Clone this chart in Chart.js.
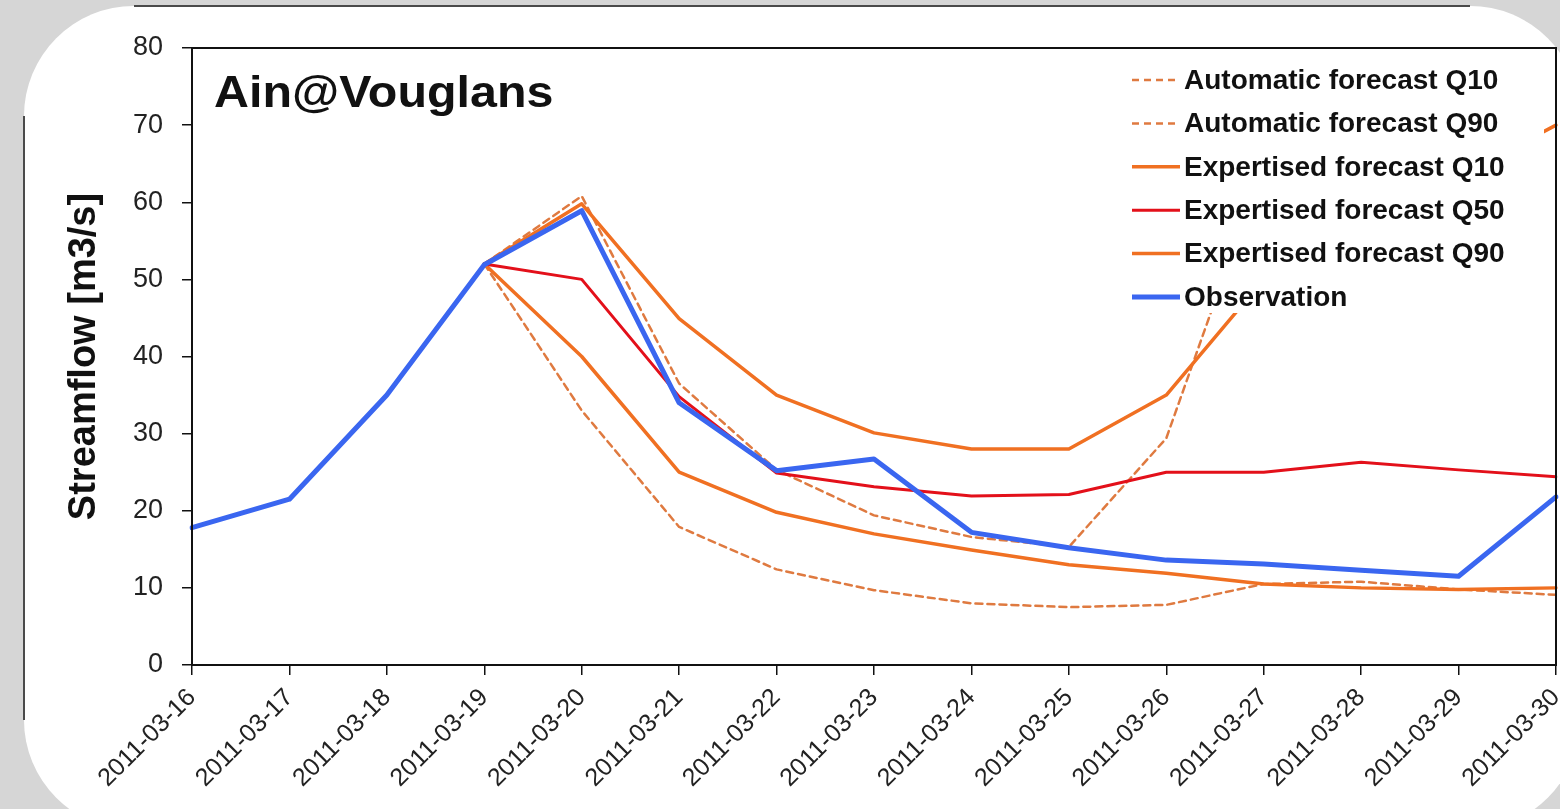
<!DOCTYPE html>
<html>
<head>
<meta charset="utf-8">
<title>Ain@Vouglans</title>
<script src="https://cdn.jsdelivr.net/npm/chart.js@4.4.0/dist/chart.umd.min.js"></script>
<style>
  html, body { margin: 0; padding: 0; background: #d6d6d6; overflow: hidden; }
  body { width: 1560px; height: 809px; position: relative; }
  .panel { position: absolute; left: 24px; top: 6px; width: 1556px; height: 824px; background: #fff; border-radius: 110px; }
  .edge-top { position: absolute; left: 134px; top: 5px; width: 1336px; height: 2px; background: #4a4a4a; }
  .edge-left { position: absolute; left: 23px; top: 116px; width: 2px; height: 604px; background: #4a4a4a; }
  #wrap { position: absolute; left: 0; top: 0; width: 1560px; height: 809px; }
</style>
</head>
<body>
<div class="panel"></div>
<div class="edge-top"></div>
<div class="edge-left"></div>
<div id="wrap"><canvas id="flowChart"></canvas></div>
<script>
// dates on the x axis
const dates = ['2011-03-16', '2011-03-17', '2011-03-18', '2011-03-19', '2011-03-20',
               '2011-03-21', '2011-03-22', '2011-03-23', '2011-03-24', '2011-03-25',
               '2011-03-26', '2011-03-27', '2011-03-28', '2011-03-29', '2011-03-30'];

// streamflow values [m3/s], null = no value / hidden
const autoQ10 = [null, null, null, 52, 33, 17.9, 12.4, 9.7, 8.0, 7.5, 7.8, 10.5, 10.8, 9.8, 9.1];
const autoQ90 = [null, null, null, 52, 60.8, 36.5, 25.3, 19.4, 16.6, 15.3, 29.4, 65, null, null, null];
const expQ10 = [null, null, null, 52, 40, 25, 19.8, 17, 14.9, 13, 11.9, 10.5, 10, 9.8, 10];
const expQ50 = [null, null, null, 52, 50, 34.8, 24.9, 23.1, 21.9, 22.1, 25, 25, 26.3, 25.3, 24.4];
const expQ90 = [null, null, null, 52, 59.8, 44.9, 35, 30.1, 28, 28, 35, 50, null, null, 70];
const observation = [17.8, 21.5, 35, 51.9, 58.9, 34, 25.2, 26.7, 17.2, 15.2, 13.6, 13.1, 12.3, 11.5, 21.8];

const yMin = 0;
const yMax = 80;
const yStep = 10;

const stationName = 'Ain@Vouglans';
const fontFamily = '"Liberation Sans", Arial, Helvetica, sans-serif';

// legend with white box, drawn over the lines (like the original)
const boxLegend = {
    id: 'boxLegend',
    afterDatasetsDraw(chart) {
        const ctx = chart.ctx;
        const area = chart.chartArea;
        const right = area.right;
        ctx.save();
        ctx.fillStyle = '#ffffff';
        ctx.fillRect(right - 436, area.top + 1, 424, 264);

        ctx.font = 'bold 28px ' + fontFamily;
        ctx.textBaseline = 'middle';
        ctx.textAlign = 'left';
        chart.data.datasets.forEach(function(ds, i) {
            const y = area.top + 32 + i * 43.4;
            ctx.beginPath();
            ctx.strokeStyle = ds.borderColor;
            ctx.lineWidth = ds.borderWidth;
            ctx.setLineDash(ds.borderDash || []);
            ctx.moveTo(right - 424, y);
            ctx.lineTo(right - 376, y);
            ctx.stroke();
            ctx.setLineDash([]);
            ctx.fillStyle = '#111';
            ctx.fillText(ds.label, right - 372, y + 1);
        });

        // station name in the top left corner (slightly wide, as in the original)
        ctx.font = 'bold 44px ' + fontFamily;
        ctx.textBaseline = 'alphabetic';
        ctx.translate(area.left + 22, area.top + 59);
        ctx.scale(1.1, 1);
        ctx.fillText(stationName, 0, 0);
        ctx.restore();
    },
    afterDraw(chart) {
        const ctx = chart.ctx;
        const area = chart.chartArea;
        ctx.save();
        ctx.strokeStyle = '#111';
        ctx.lineWidth = 2;
        ctx.strokeRect(area.left, area.top, area.right - area.left, area.bottom - area.top);
        ctx.restore();
    }
};

const flowCtx = document.getElementById('flowChart').getContext('2d');
new Chart(flowCtx, {
    type: 'line',
    data: {
        labels: dates,
        datasets: [
            { label: 'Automatic forecast Q10', data: autoQ10, borderColor: '#df7a40', borderWidth: 2.5, borderDash: [7, 5], order: 4 },
            { label: 'Automatic forecast Q90', data: autoQ90, borderColor: '#df7a40', borderWidth: 2.5, borderDash: [7, 5], order: 5 },
            { label: 'Expertised forecast Q10', data: expQ10, borderColor: '#f07022', borderWidth: 3.5, order: 2 },
            { label: 'Expertised forecast Q50', data: expQ50, borderColor: '#e3101a', borderWidth: 3, order: 1 },
            { label: 'Expertised forecast Q90', data: expQ90, borderColor: '#f07022', borderWidth: 3.5, order: 3, spanGaps: true },
            { label: 'Observation', data: observation, borderColor: '#3a66f0', borderWidth: 5, order: 0 }
        ]
    },
    options: {
        responsive: true,
        maintainAspectRatio: false,
        animation: false,
        layout: { padding: { left: 62, top: 48, right: 4, bottom: 0 } },
        elements: {
            point: { radius: 0 },
            line: { tension: 0, fill: false, borderCapStyle: 'round', borderJoinStyle: 'round' }
        },
        plugins: {
            legend: { display: false },
            tooltip: { enabled: false }
        },
        scales: {
            x: {
                grid: { drawOnChartArea: false, drawTicks: true, tickLength: 10, color: '#111', lineWidth: 1.5 },
                border: { display: true, color: '#111', width: 2 },
                ticks: {
                    color: '#222',
                    font: { family: fontFamily, size: 25 },
                    minRotation: 45,
                    maxRotation: 45,
                    padding: 8,
                    autoSkip: false
                },
                afterFit(scale) {
                    scale.height = 809 - 665;
                    scale.paddingLeft = 0;
                    scale.paddingRight = 0;
                }
            },
            y: {
                min: yMin,
                max: yMax,
                grid: { drawOnChartArea: false, drawTicks: true, tickLength: 10, color: '#111', lineWidth: 1.5 },
                border: { display: true, color: '#111', width: 2 },
                ticks: {
                    stepSize: yStep,
                    color: '#222',
                    padding: 19,
                    font: { family: fontFamily, size: 27 }
                },
                title: {
                    display: true,
                    text: 'Streamflow [m3/s]',
                    color: '#111',
                    padding: 0,
                    font: { family: fontFamily, size: 38, weight: 'bold' }
                },
                afterFit(scale) {
                    scale.width = 192 - 62;
                }
            }
        }
    },
    plugins: [boxLegend]
});
</script>
</body>
</html>
